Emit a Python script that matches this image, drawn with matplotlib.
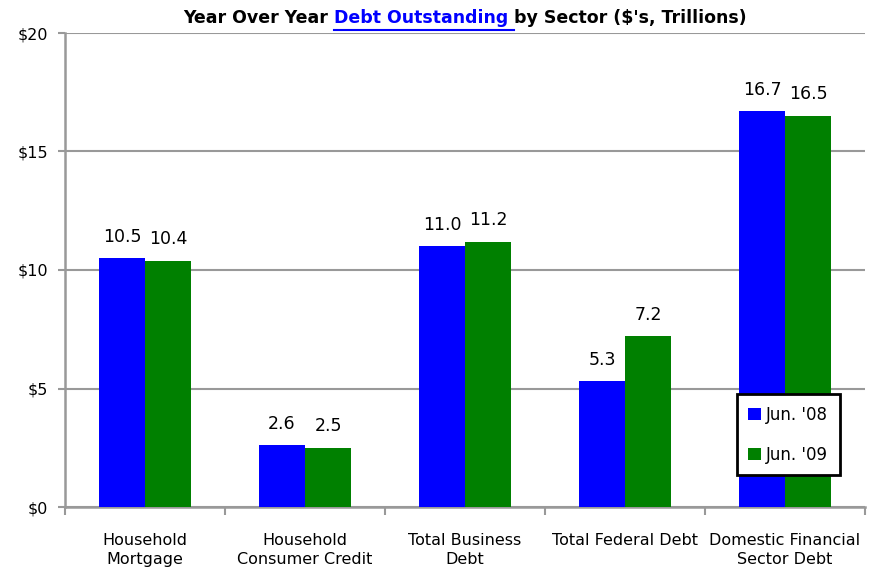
import matplotlib.pyplot as plt
import numpy as np

plt.rcParams["font.family"] = ["DejaVu Sans"]

sectors = ["Household\nMortgage", "Household\nConsumer Credit", "Total Business\nDebt",
           "Total Federal Debt", "Domestic Financial\nSector Debt"]
jun_08 = [10.5, 2.6, 11.0, 5.3, 16.7]
jun_09 = [10.4, 2.5, 11.2, 7.2, 16.5]
series_names = ["Jun. '08", "Jun. '09"]
y_ticks = [0, 5, 10, 15, 20]
y_tick_labels = ["$0", "$5", "$10", "$15", "$20"]

grid_col = "#999999"
blue = "#0000ff"
green = "#008000"

fig = plt.figure(figsize=(8.69, 5.74), dpi=100)
ax = fig.add_axes([65 / 869, 67 / 574, 800 / 869, 474 / 574])

x = np.arange(len(sectors))
w = 0.2875
b1 = ax.bar(x - w / 2, jun_08, w, color=blue, label=series_names[0], zorder=3)
b2 = ax.bar(x + w / 2, jun_09, w, color=green, label=series_names[1], zorder=3)

for bars in (b1, b2):
    for r in bars:
        ax.annotate(f"{r.get_height():.1f}", (r.get_x() + r.get_width() / 2, r.get_height()),
                    xytext=(0, 9), textcoords="offset points", ha="center", va="bottom",
                    fontsize=12.5)

ax.set_xlim(-0.5, len(sectors) - 0.5)
ax.set_ylim(0, 20)
ax.set_yticks(y_ticks)
ax.set_yticklabels(y_tick_labels, fontsize=11.5)
ax.tick_params(axis="y", length=5, width=1.5, color=grid_col, pad=7)
ax.yaxis.grid(True, color=grid_col, linewidth=1.5, zorder=0)

ax.set_xticks(x)
ax.set_xticklabels(sectors, fontsize=11.5, linespacing=1.3)
ax.set_xticks(np.arange(len(sectors) + 1) - 0.5, minor=True)
ax.tick_params(axis="x", which="major", length=0, pad=19)
ax.tick_params(axis="x", which="minor", length=6, width=1.5, color=grid_col)

for s in ("top", "right"):
    ax.spines[s].set_visible(False)
for s in ("left", "bottom"):
    ax.spines[s].set_color(grid_col)
    ax.spines[s].set_linewidth(1.8)

leg = ax.legend(loc="center", bbox_to_anchor=(0.904, 0.152), fontsize=12, frameon=True,
                fancybox=False, framealpha=1, handlelength=0.75, handleheight=0.75,
                handletextpad=0.3, labelspacing=1.3, borderpad=0.7, borderaxespad=0)
leg.get_frame().set_edgecolor("black")
leg.get_frame().set_facecolor("white")
leg.get_frame().set_linewidth(2)
leg.set_zorder(5)

# title in three pieces, middle one blue and underlined
parts = [("Year Over Year ", "black"), ("Debt Outstanding ", blue), ("by Sector ($'s, Trillions)", "black")]
fig.canvas.draw()
renderer = fig.canvas.get_renderer()
texts = []
for s, c in parts:
    t = fig.text(0, 1 - 18 / 574, s, color=c, fontsize=12.5, fontweight="bold", va="center", ha="left")
    texts.append(t)
widths = [t.get_window_extent(renderer).width for t in texts]
start = 465 - sum(widths) / 2
pos = start
for t, wd in zip(texts, widths):
    t.set_x(pos / 869)
    pos += wd
ux0 = (start + widths[0]) / 869
ux1 = (start + widths[0] + widths[1]) / 869
fig.add_artist(plt.Line2D([ux0, ux1], [1 - 30 / 574] * 2, color=blue, linewidth=1.5,
                          transform=fig.transFigure))

fig.savefig("out.png", dpi=100)
plt.close(fig)
